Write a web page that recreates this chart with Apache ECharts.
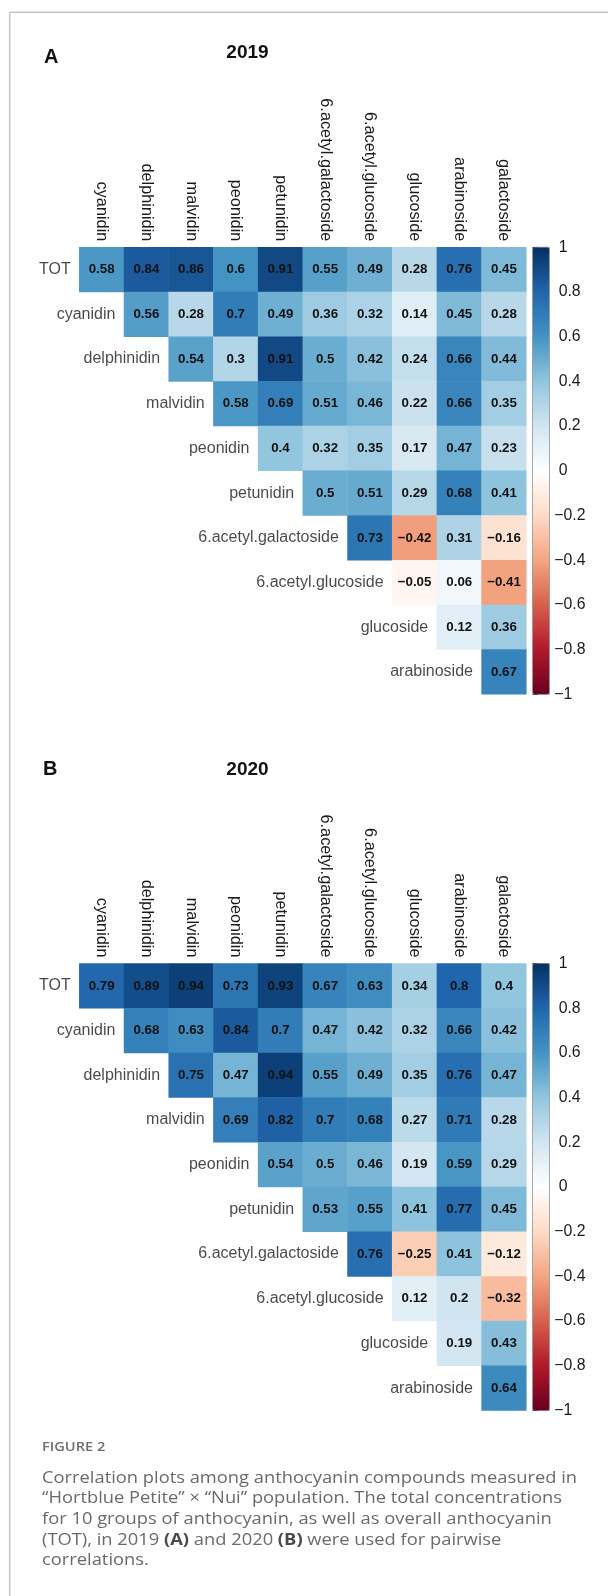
<!DOCTYPE html>
<html>
<head>
<meta charset="utf-8">
<title>Anthocyanin correlation plots</title>
<script src="https://cdn.jsdelivr.net/npm/echarts@6/dist/echarts.min.js"></script>
<style>
  html, body { margin: 0; padding: 0; background: #fff; }
  #chart { width: 608px; height: 1596px; }
</style>
</head>
<body>
<div id="chart"></div>
<script>
// Column (top) and row (left) variables of the upper-triangular correlation matrices
const columns = ['cyanidin', 'delphinidin', 'malvidin', 'peonidin', 'petunidin',
  '6.acetyl.galactoside', '6.acetyl.glucoside', 'glucoside', 'arabinoside', 'galactoside'];
const rows = ['TOT', 'cyanidin', 'delphinidin', 'malvidin', 'peonidin', 'petunidin',
  '6.acetyl.galactoside', '6.acetyl.glucoside', 'glucoside', 'arabinoside'];

// Pairwise correlations, 2019: row i holds the values for columns i..9
const corr2019 = [
  [0.58, 0.84, 0.86, 0.6, 0.91, 0.55, 0.49, 0.28, 0.76, 0.45],
  [0.56, 0.28, 0.7, 0.49, 0.36, 0.32, 0.14, 0.45, 0.28],
  [0.54, 0.3, 0.91, 0.5, 0.42, 0.24, 0.66, 0.44],
  [0.58, 0.69, 0.51, 0.46, 0.22, 0.66, 0.35],
  [0.4, 0.32, 0.35, 0.17, 0.47, 0.23],
  [0.5, 0.51, 0.29, 0.68, 0.41],
  [0.73, -0.42, 0.31, -0.16],
  [-0.05, 0.06, -0.41],
  [0.12, 0.36],
  [0.67]
];

// Pairwise correlations, 2020
const corr2020 = [
  [0.79, 0.89, 0.94, 0.73, 0.93, 0.67, 0.63, 0.34, 0.8, 0.4],
  [0.68, 0.63, 0.84, 0.7, 0.47, 0.42, 0.32, 0.66, 0.42],
  [0.75, 0.47, 0.94, 0.55, 0.49, 0.35, 0.76, 0.47],
  [0.69, 0.82, 0.7, 0.68, 0.27, 0.71, 0.28],
  [0.54, 0.5, 0.46, 0.19, 0.59, 0.29],
  [0.53, 0.55, 0.41, 0.77, 0.45],
  [0.76, -0.25, 0.41, -0.12],
  [0.12, 0.2, -0.32],
  [0.19, 0.43],
  [0.64]
];

// Colour bar range and tick step
const scaleMin = -1;
const scaleMax = 1;
const scaleStep = 0.2;

// Diverging red-white-blue palette, from -1 to 1
const palette = ['#67001F', '#B2182B', '#D6604D', '#F4A582', '#FDDBC7', '#FFFFFF',
  '#D1E5F0', '#92C5DE', '#4393C3', '#2166AC', '#053061'];

const FONT = '"Liberation Sans", Arial, Helvetica, sans-serif';
const CAPTION_FONT = '"Open Sans", sans-serif';
const MINUS = '\u2212';

function fmt(v) {
  const r = Math.round(v * 100) / 100;
  return r < 0 ? MINUS + String(Math.abs(r)) : String(r);
}

// Colour-bar labels share a left edge; non-negative ones are padded by a space
function fmtBar(v) {
  const r = Math.round(v * 100) / 100;
  return r < 0 ? MINUS + String(Math.abs(r)) : ' ' + String(r);
}

// Turn the triangular rows into [column, row, value] triples
function toCells(matrix) {
  const out = [];
  matrix.forEach((vals, i) => {
    vals.forEach((v, k) => out.push([columns[i + k], rows[i], v]));
  });
  return out;
}

// Row names sit just left of the first cell of each row
function rowLabelPoints() {
  return rows.map((r, i) => [columns[i], r]);
}

const cell = 44.7;
const gridLeft = 79.3;
const panels = [
  { top: 247.3, data: corr2019 },
  { top: 963.5, data: corr2020 }
];

const grids = [];
const xAxes = [];
const yAxes = [];
const series = [];
const visualMaps = [];

panels.forEach((p, k) => {
  // heatmap grid
  grids.push({ left: gridLeft, top: p.top, width: cell * 10, height: cell * 10 });
  xAxes.push({
    type: 'category', data: columns, gridIndex: 2 * k, position: 'top',
    axisLine: { show: false }, axisTick: { show: false }, splitLine: { show: false },
    axisLabel: { rotate: 90, margin: 6, fontSize: 16.3, color: '#1a1a1a', fontFamily: FONT, interval: 0 }
  });
  yAxes.push({
    type: 'category', data: rows, gridIndex: 2 * k, inverse: true,
    axisLine: { show: false }, axisTick: { show: false }, splitLine: { show: false },
    axisLabel: { show: false }
  });
  // colour-bar tick grid
  grids.push({
    left: 532.7, top: p.top, width: 16.6, height: cell * 10,
    show: true, borderColor: '#666', borderWidth: 0.8, backgroundColor: 'transparent'
  });
  xAxes.push({ type: 'value', gridIndex: 2 * k + 1, show: false });
  yAxes.push({
    type: 'value', gridIndex: 2 * k + 1, position: 'right',
    min: scaleMin, max: scaleMax, interval: scaleStep,
    axisLine: { show: false },
    axisTick: { show: true, length: 5, lineStyle: { color: '#444', width: 1 } },
    splitLine: { show: false },
    axisLabel: { margin: 5, fontSize: 15.8, color: '#1a1a1a', fontFamily: FONT, formatter: fmtBar }
  });

  series.push({
    type: 'heatmap',
    xAxisIndex: 2 * k, yAxisIndex: 2 * k,
    data: toCells(p.data),
    itemStyle: { borderWidth: 0 },
    label: {
      show: true, color: '#111', fontWeight: 'bold', fontSize: 13.3, fontFamily: FONT,
      formatter: (q) => fmt(q.data[2])
    },
    emphasis: { disabled: true },
    z: 2
  });
  series.push({
    type: 'scatter',
    xAxisIndex: 2 * k, yAxisIndex: 2 * k,
    data: rowLabelPoints(),
    symbolSize: 0,
    silent: true,
    label: {
      show: true, position: 'left', distance: 31,
      fontSize: 16, color: '#1a1a1a', fontFamily: FONT,
      formatter: (q) => q.data[1]
    },
    z: 3
  });

  visualMaps.push({
    type: 'continuous',
    min: scaleMin, max: scaleMax,
    seriesIndex: series.length - 2,
    dimension: 2,
    calculable: false,
    hoverLink: false,
    orient: 'vertical',
    left: 532.7, top: p.top,
    itemWidth: 16.6, itemHeight: cell * 10,
    padding: 0,
    text: null,
    showLabel: false,
    inRange: { color: palette }
  });
});

const caption = [
  'Correlation plots among anthocyanin compounds measured in',
  '\u201CHortblue Petite\u201D \u00D7 \u201CNui\u201D population. The total concentrations',
  'for 10 groups of anthocyanin, as well as overall anthocyanin',
  '(TOT), in 2019 {b|(A)} and 2020 {b|(B)} were used for pairwise',
  'correlations.'
].join('\n');

const chart = echarts.init(document.getElementById('chart'), null, { renderer: 'canvas' });
chart.setOption({
  animation: false,
  backgroundColor: '#fff',
  grid: grids,
  xAxis: xAxes,
  yAxis: yAxes,
  visualMap: visualMaps,
  series: series,
  graphic: [
    // figure frame
    { type: 'line', shape: { x1: 9.7, y1: 12.3, x2: 608, y2: 12.3 }, style: { stroke: '#c4c4c4', lineWidth: 1.5 } },
    { type: 'line', shape: { x1: 9.7, y1: 12.3, x2: 9.7, y2: 1596 }, style: { stroke: '#c4c4c4', lineWidth: 1.5 } },
    // panel letters and titles
    { type: 'text', x: 44, y: 57.5, style: { text: 'A', font: 'bold 20px ' + FONT, fill: '#111', verticalAlign: 'middle' } },
    { type: 'text', x: 247.5, y: 53, style: { text: '2019', font: 'bold 19px ' + FONT, fill: '#111', align: 'center', verticalAlign: 'middle' } },
    { type: 'text', x: 43, y: 769, style: { text: 'B', font: 'bold 20px ' + FONT, fill: '#111', verticalAlign: 'middle' } },
    { type: 'text', x: 247.5, y: 769.5, style: { text: '2020', font: 'bold 19px ' + FONT, fill: '#111', align: 'center', verticalAlign: 'middle' } },
    // caption
    { type: 'text', x: 42, y: 1447, scaleX: 1.17, style: { text: 'FIGURE 2', font: '600 12.5px ' + CAPTION_FONT, fill: '#6e6e6e', verticalAlign: 'middle' } },
    {
      type: 'text', x: 42, y: 1468, scaleX: 1.145,
      style: {
        text: caption,
        font: '16px ' + CAPTION_FONT,
        fill: '#6a6a6a',
        lineHeight: 20.6,
        rich: { b: { fontWeight: 'bold', fill: '#4a4a4a', fontSize: 16, fontFamily: CAPTION_FONT } }
      }
    }
  ]
});
</script>
</body>
</html>
